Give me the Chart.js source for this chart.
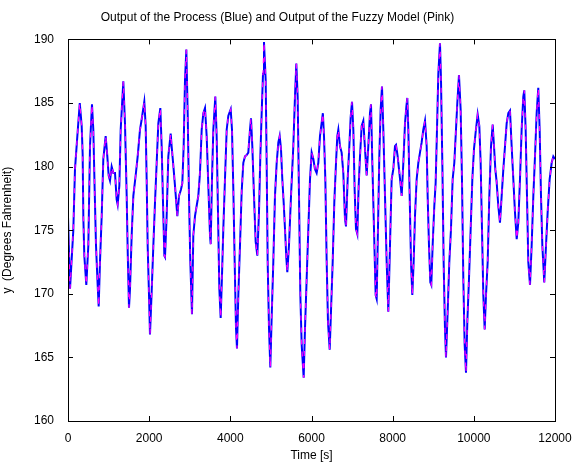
<!DOCTYPE html>
<html lang="en">
  <head>
    <meta charset="UTF-8" />
    <title>Output of the Process and the Fuzzy Model</title>
    <script src="https://cdnjs.cloudflare.com/ajax/libs/Chart.js/4.4.1/chart.umd.min.js"></script>
    <style>
      body {
        margin: 0;
        background-color: white;
      }
      #myChart {
        display: block;
      }
    </style>
  </head>

  <body>
    <canvas id="myChart" width="575" height="463"></canvas>

    <script>
      // ---------- data ----------
      const timeS = [
        0, 50, 131, 172, 230, 290, 337, 361, 378, 402, 451, 501, 542, 591, 624, 657, 690, 731, 756, 788,
        830, 870, 928, 969, 1002, 1035, 1076, 1117, 1158, 1199, 1224, 1265, 1298, 1339, 1363, 1404, 1446, 1470, 1503, 1528,
        1569, 1610, 1667, 1717, 1774, 1815, 1880, 1914, 1938, 1963, 1996, 2020, 2062, 2103, 2144, 2185, 2226, 2275, 2308, 2341,
        2374, 2390, 2431, 2472, 2530, 2554, 2595, 2636, 2694, 2735, 2784, 2817, 2850, 2883, 2916, 2949, 2981, 3014, 3055, 3088,
        3129, 3170, 3211, 3252, 3294, 3335, 3376, 3417, 3458, 3499, 3516, 3548, 3581, 3630, 3663, 3696, 3729, 3762, 3795, 3827,
        3868, 3910, 3951, 4009, 4041, 4074, 4107, 4140, 4164, 4197, 4238, 4279, 4320, 4361, 4402, 4443, 4484, 4509, 4542, 4583,
        4624, 4665, 4706, 4739, 4772, 4805, 4829, 4871, 4895, 4920, 4953, 4985, 5018, 5059, 5100, 5142, 5183, 5216, 5248, 5281,
        5314, 5347, 5380, 5404, 5445, 5495, 5552, 5593, 5626, 5659, 5692, 5725, 5758, 5807, 5840, 5881, 5922, 5963, 6004, 6045,
        6086, 6127, 6168, 6209, 6280, 6308, 6341, 6374, 6406, 6448, 6480, 6522, 6562, 6604, 6636, 6661, 6702, 6743, 6784, 6825,
        6850, 6891, 6932, 6965, 6998, 7031, 7063, 7096, 7129, 7162, 7195, 7236, 7277, 7318, 7359, 7400, 7441, 7466, 7499, 7540,
        7581, 7606, 7638, 7671, 7704, 7737, 7770, 7811, 7852, 7893, 7934, 7975, 8016, 8057, 8082, 8123, 8156, 8189, 8222, 8263,
        8304, 8337, 8361, 8386, 8419, 8452, 8484, 8517, 8550, 8591, 8632, 8673, 8714, 8755, 8797, 8838, 8862, 8895, 8928, 8952,
        8985, 9026, 9059, 9092, 9125, 9166, 9191, 9224, 9256, 9289, 9314, 9355, 9396, 9437, 9478, 9519, 9560, 9593, 9634, 9675,
        9708, 9741, 9774, 9807, 9840, 9881, 9922, 9963, 10004, 10045, 10094, 10135, 10168, 10201, 10234, 10267, 10300, 10341, 10382, 10423,
        10464, 10497, 10529, 10562, 10603, 10644, 10686, 10727, 10768, 10809, 10850, 10891, 10932, 10973, 11014, 11056, 11096, 11137, 11178, 11219,
        11243, 11277, 11310, 11342, 11384, 11425, 11466, 11507, 11548, 11588, 11622, 11655, 11688, 11736, 11778, 11819, 11868, 11918, 11959, 12000
      ];

      // process output (blue), degrees Fahrenheit
      const yProcess = [
        176.1, 170.4, 175.0, 179.8, 182.4, 185.0, 183.2, 181.0, 176.0, 173.0, 170.7, 173.8, 181.6, 184.9, 182.9, 178.2, 173.8, 170.7, 169.0, 172.5,
        176.1, 180.6, 182.4, 180.8, 179.3, 178.9, 180.0, 179.5, 179.5, 177.4, 177.0, 178.5, 182.9, 185.3, 186.7, 183.4, 177.7, 173.5, 168.9, 170.4,
        174.6, 177.7, 179.3, 180.8, 182.9, 183.7, 185.1, 183.2, 179.0, 173.8, 169.9, 166.8, 170.2, 173.8, 177.2, 180.3, 183.4, 184.6, 181.6, 177.2,
        173.0, 172.9, 176.1, 180.8, 182.6, 181.6, 180.1, 178.5, 176.1, 177.7, 178.2, 178.7, 181.6, 186.8, 189.2, 184.2, 177.7, 172.5, 168.4, 174.6,
        176.1, 176.9, 177.7, 179.5, 182.9, 184.2, 184.6, 182.4, 178.5, 174.6, 173.9, 179.0, 182.9, 185.5, 182.4, 176.4, 170.4, 168.1, 171.5, 175.1,
        179.0, 182.9, 184.0, 184.5, 182.9, 178.2, 172.5, 167.3, 165.7, 169.9, 173.8, 178.0, 180.3, 180.8, 180.9, 181.1, 182.9, 183.8, 181.6, 177.7,
        174.1, 173.0, 176.4, 180.8, 184.2, 187.3, 189.8, 186.8, 180.3, 172.5, 167.3, 164.2, 168.1, 172.5, 177.7, 180.3, 181.9, 182.4, 181.4, 179.0,
        177.2, 175.1, 172.8, 171.7, 173.8, 177.7, 181.6, 185.5, 188.1, 185.5, 177.7, 169.9, 166.0, 163.4, 167.3, 171.2, 175.1, 179.0, 181.1, 180.6,
        179.8, 179.5, 180.3, 182.4, 184.2, 182.4, 179.0, 172.5, 167.8, 165.6, 168.6, 172.5, 177.2, 180.3, 182.4, 182.9, 181.6, 181.1, 179.5, 175.9,
        175.3, 179.0, 181.6, 183.9, 185.1, 182.9, 178.2, 175.1, 174.7, 178.5, 180.8, 183.2, 183.6, 181.4, 179.3, 181.6, 184.2, 184.9, 180.3, 175.1,
        169.9, 169.6, 175.1, 180.8, 184.5, 186.3, 182.9, 177.7, 172.5, 168.6, 173.8, 179.0, 179.8, 181.6, 181.7, 180.8, 179.8, 178.8, 177.7, 180.3,
        183.4, 184.7, 185.4, 182.9, 177.7, 172.5, 169.9, 172.5, 176.1, 179.0, 180.3, 181.1, 181.9, 182.9, 183.6, 181.6, 177.7, 173.8, 170.9, 170.7,
        173.8, 176.9, 178.7, 182.9, 187.3, 189.7, 186.8, 180.3, 172.5, 167.3, 165.0, 168.6, 172.5, 175.1, 179.0, 180.3, 182.9, 185.0, 187.2, 184.5,
        179.0, 171.2, 166.0, 163.8, 167.8, 171.2, 175.1, 179.0, 181.4, 182.7, 184.1, 183.2, 180.3, 175.1, 169.9, 167.2, 169.9, 172.5, 177.7, 181.6,
        183.3, 181.6, 179.8, 178.8, 176.9, 175.6, 177.7, 179.8, 181.6, 183.4, 184.2, 184.4, 181.6, 179.0, 176.4, 174.3, 175.6, 179.0, 182.9, 185.5,
        186.0, 182.9, 177.7, 172.5, 170.7, 173.8, 177.7, 180.8, 184.2, 186.2, 182.9, 177.7, 173.8, 170.9, 173.8, 176.4, 179.0, 180.3, 180.8, 180.6
      ];

      // fuzzy model output (pink) lies on top of the process output everywhere
      const yModel = yProcess;

      const xTicks = [0, 2000, 4000, 6000, 8000, 10000, 12000];
      const yTicks = [160, 165, 170, 175, 180, 185, 190];

      const chartTitle = "Output of the Process (Blue) and Output of the Fuzzy Model (Pink)";
      const xTitle = "Time [s]";
      const yTitle = "y  (Degrees Fahrenheit)";

      // ---------- helpers ----------
      function toPoints(xs, ys) {
        return xs.map(function (x, i) {
          return { x: x, y: ys[i] };
        });
      }

      // MATLAB style box with inward ticks on all four sides
      const matlabBox = {
        id: "matlabBox",
        afterDraw(chart) {
          const ctx = chart.ctx;
          const a = chart.chartArea;
          const xs = chart.scales.x;
          const ys = chart.scales.y;
          const len = 5;
          ctx.save();
          ctx.strokeStyle = "#000";
          ctx.lineWidth = 1;
          ctx.strokeRect(Math.round(a.left) + 0.5, Math.round(a.top) + 0.5,
            Math.round(a.right - a.left), Math.round(a.bottom - a.top));
          ctx.beginPath();
          xTicks.forEach(function (v) {
            const px = Math.round(xs.getPixelForValue(v)) + 0.5;
            ctx.moveTo(px, a.bottom);
            ctx.lineTo(px, a.bottom - len);
            ctx.moveTo(px, a.top);
            ctx.lineTo(px, a.top + len);
          });
          yTicks.forEach(function (v) {
            const py = Math.round(ys.getPixelForValue(v)) + 0.5;
            ctx.moveTo(a.left, py);
            ctx.lineTo(a.left + len, py);
            ctx.moveTo(a.right, py);
            ctx.lineTo(a.right - len, py);
          });
          ctx.stroke();
          ctx.restore();
        },
      };

      const tickFont = { family: "Liberation Sans", size: 12 };

      const ctx = document.getElementById("myChart").getContext("2d");
      const myChart = new Chart(ctx, {
        type: "line",
        data: {
          datasets: [
            {
              label: "Process",
              data: toPoints(timeS, yProcess),
              borderColor: "#0000ff",
              borderWidth: 2,
              pointRadius: 0,
              tension: 0,
              order: 2,
            },
            {
              label: "Fuzzy Model",
              data: toPoints(timeS, yModel),
              borderColor: "#ff00ff",
              borderWidth: 1.2,
              borderDash: [5, 7],
              pointRadius: 0,
              tension: 0,
              order: 1,
            },
          ],
        },
        options: {
          responsive: false,
          animation: false,
          layout: {
            padding: { left: 0, right: 20, top: 0, bottom: 0 },
          },
          scales: {
            x: {
              type: "linear",
              min: 0,
              max: 12000,
              afterBuildTicks(scale) {
                scale.ticks = xTicks.map(function (v) { return { value: v }; });
              },
              afterFit(scale) {
                scale.height = 42;
              },
              grid: { display: false },
              border: { display: true, color: "#000" },
              ticks: {
                color: "#000",
                font: tickFont,
                padding: 2,
                maxRotation: 0,
                callback: function (v) { return String(v); },
              },
              title: {
                display: true,
                text: xTitle,
                color: "#000",
                font: tickFont,
                padding: { top: 0, bottom: 0 },
              },
            },
            y: {
              min: 160,
              max: 190,
              afterBuildTicks(scale) {
                scale.ticks = yTicks.map(function (v) { return { value: v }; });
              },
              afterFit(scale) {
                scale.width = 68;
              },
              grid: { display: false },
              border: { display: true, color: "#000" },
              ticks: {
                color: "#000",
                font: tickFont,
                padding: 6,
              },
              title: {
                display: true,
                text: yTitle,
                color: "#000",
                font: tickFont,
                padding: { top: 0, bottom: 0 },
              },
            },
          },
          plugins: {
            legend: { display: false },
            tooltip: { enabled: false },
            title: {
              display: true,
              text: chartTitle,
              color: "#000",
              font: { family: "Liberation Sans", size: 12, weight: "normal" },
              padding: { top: 10, bottom: 15 },
            },
          },
        },
        plugins: [matlabBox],
      });
    </script>
  </body>
</html>
